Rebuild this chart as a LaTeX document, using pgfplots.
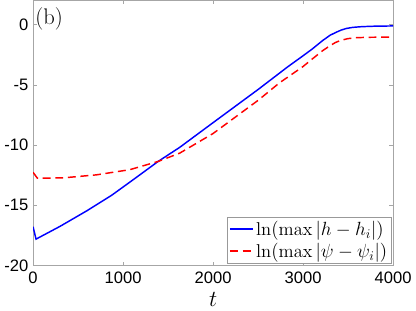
\documentclass[border=0pt]{standalone}
\usepackage{pgfplots}
\pgfplotsset{compat=1.18}
\usepackage{fontspec}
\newfontfamily\hel{Liberation Sans}

\begin{document}
\begin{tikzpicture}
\begin{axis}[
    width=271.5pt, height=200pt,
    scale only axis,
    xmin=0, xmax=4000,
    ymin=-20, ymax=2,
    xtick={0,1000,2000,3000,4000},
    xticklabels={0,1000,2000,3000,4000},
    ytick={-20,-15,-10,-5,0},
    yticklabels={-20,-15,-10,-5,0},
    ticklabel style={font=\hel\fontsize{12.5}{14}\selectfont},
    xticklabel style={yshift=-1pt},
    tick align=inside,
    major tick length=3pt,
    axis line style={gray!70},
    tick style={gray!70},
    xlabel={$t$},
    xlabel style={font=\fontsize{17}{19}\selectfont},
    legend style={font=\fontsize{14}{16}\selectfont, draw=gray!80,
        inner sep=1pt, row sep=0pt, at={(0.995,0.008)}, anchor=south east},
    legend cell align=left,
]
\addplot[color=blue, line width=1.1pt,
    legend image code/.code={\draw[blue, line width=1.4pt, solid] (0cm,0cm) -- (0.6cm,0cm);}] coordinates {
    (0,-16.78) (33,-17.81) (300,-16.75) (600,-15.45) (872,-14.18)
    (1100,-12.95) (1389,-11.37) (1629,-10.2) (2000,-8.15) (2500,-5.4)
    (2829,-3.52) (3000,-2.6) (3100,-2.05) (3217,-1.34) (3300,-0.9)
    (3360,-0.68) (3420,-0.48) (3480,-0.34) (3550,-0.25) (3650,-0.19)
    (3800,-0.15) (4000,-0.13)
};
\addlegendentry{$\ln(\max|h-h_i|)$}
\addplot[color=red, line width=1.1pt, dash pattern=on 6pt off 3.5pt] coordinates {
    (0,-12.27) (48,-12.76) (336,-12.73) (705,-12.48) (1075,-12.05)
    (1389,-11.37) (1629,-10.68) (2000,-9.05) (2500,-6.3) (2737,-4.85)
    (2995,-3.52) (3100,-2.88) (3217,-2.18) (3300,-1.76) (3360,-1.5)
    (3420,-1.32) (3500,-1.18) (3600,-1.1) (3750,-1.07) (4000,-1.05)
};
\addlegendentry{$\ln(\max|\psi-\psi_i|)$}
\node[anchor=north west, font=\fontsize{17}{19}\selectfont, inner sep=0pt]
    at (rel axis cs:0.006,0.975) {(b)};
\end{axis}
\end{tikzpicture}
\end{document}
